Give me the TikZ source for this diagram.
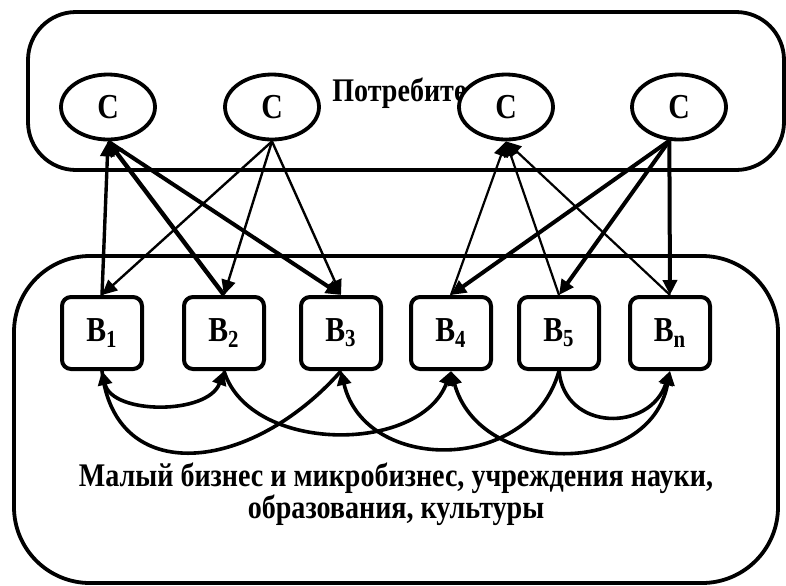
\documentclass[tikz,border=0pt]{standalone}
\usepackage{fontspec}
\setmainfont{Liberation Serif}
\newfontfamily\schmal[FakeStretch=0.85]{Liberation Serif}
\usetikzlibrary{arrows.meta,shapes.geometric}

\tikzset{
  huelle/.style={line width=1.9pt},
  verbr/.style={draw, ellipse, line width=1.9pt, fill=white, inner sep=0pt,
    minimum width=47pt, minimum height=32.5pt, font=\schmal\bfseries\fontsize{17.5}{17.5}\selectfont},
  firma/.style={draw, rounded corners=4.5pt, line width=2pt, fill=white, inner sep=0pt,
    minimum width=40pt, minimum height=36pt, font=\schmal\bfseries\fontsize{17.5}{17.5}\selectfont},
  pfeil/.style={-{Triangle[length=7.5pt,width=7pt]}},
  bogen/.style={line width=1.8pt, >={Triangle[length=7pt,width=7pt]}},
}

\begin{document}
\begin{tikzpicture}[x=0.5pt, y=-0.5pt]
  \useasboundingbox (0,0) rectangle (786,585);

  % Huellen (oben Verbraucher, unten Unternehmen)
  \draw[huelle, rounded corners=24pt] (28,12) rectangle (784,170);
  \draw[huelle, rounded corners=38pt] (14,256) rectangle (778,583);
  \node[anchor=base west, inner sep=0pt, font=\schmal\bfseries\fontsize{16.5}{16.5}\selectfont] (titel) at (332,101) {Потребители};

  % Verbraucher C
  \node[verbr] (C1) at (108,107) {C};
  \node[verbr] (C2) at (272,107) {C};
  \node[verbr] (C3) at (506,107) {C};
  \node[verbr] (C4) at (679,107) {C};

  % Unternehmen B
  \node[firma] (B1) at (102,333) {B\textsubscript{1}};
  \node[firma] (B2) at (224,333) {B\textsubscript{2}};
  \node[firma] (B3) at (341,333) {B\textsubscript{3}};
  \node[firma] (B4) at (451,333) {B\textsubscript{4}};
  \node[firma] (B5) at (559,333) {B\textsubscript{5}};
  \node[firma] (Bn) at (670,333) {B\textsubscript{n}};

  % Pfeile C <-> B
  \draw[pfeil, line width=1.7pt] (B1.north) -- (C1.south);
  \draw[pfeil, line width=2.2pt] (B2.north) -- (C1.south);
  \draw[pfeil, line width=2pt] (C1.south) -- (B3.north);
  \draw[pfeil, line width=1.2pt] (C2.south) -- (B1.north);
  \draw[pfeil, line width=1.2pt] (C2.south) -- (B2.north);
  \draw[pfeil, line width=1.2pt] (C2.south) -- (B3.north);
  \draw[pfeil, line width=1.1pt] (B4.north) -- (C3.south);
  \draw[pfeil, line width=1.1pt] (B5.north) -- (C3.south);
  \draw[pfeil, line width=1.1pt] (Bn.north) -- (C3.south);
  \draw[pfeil, line width=2pt] (C4.254) -- (B4.north);
  \draw[pfeil, line width=2pt] (C4.254) -- (B5.north);
  \draw[pfeil, line width=2pt] (C4.254) -- (Bn.north);

  % Boegen zwischen den B
  \draw[bogen, <->] (B1.south) .. controls (112,415) and (208,415) .. (B2.south);
  \draw[bogen] (B1.south) .. controls (115,487) and (250,474) .. (B3.south);
  \draw[bogen, ->] (B2.south) .. controls (250,454) and (420,454) .. (B4.south);
  \draw[bogen, ->] (B5.south) .. controls (530,474) and (365,474) .. (B3.south);
  \draw[bogen, <->] (B4.south) .. controls (480,477) and (650,477) .. (Bn.south);
  \draw[bogen, ->] (B5.south) .. controls (565,432) and (650,432) .. (Bn.south);

  \node[align=center, font=\schmal\bfseries\fontsize{16.5}{16}\selectfont] (text) at (396,494)
    {Малый бизнес и микробизнес, учреждения науки,\\образования, культуры};
\end{tikzpicture}
\end{document}
